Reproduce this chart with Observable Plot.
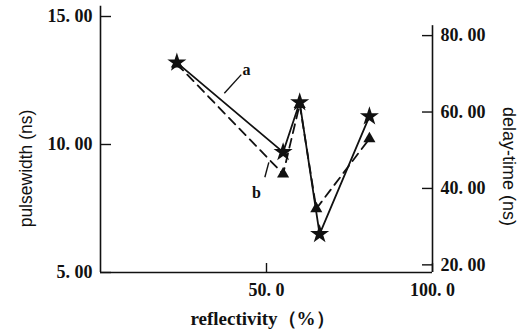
<!DOCTYPE html>
<html><head><meta charset="utf-8">
<script src="https://cdn.jsdelivr.net/npm/d3@7"></script>
<script src="https://cdn.jsdelivr.net/npm/@observablehq/plot@0.6"></script>
<style>body{margin:0;background:#fff;}</style>
</head><body><div id="chart"></div>
<script>
// curve a: pulsewidth (left axis), solid
const reflectA = [23, 55, 60, 66, 81];
const pulsewidthA = [13.2, 9.7, 11.65, 6.5, 11.1];
// curve b: delay-time (right axis), dashed
const reflectB = [23, 55, 60, 65, 81];
const delayB = [72.6, 43.8, 62, 34.7, 53];

const xTicks = [50, 100];
const xTickLabels = ["50. 0", "100. 0"];
const leftTicks = [5, 10, 15];
const leftTickLabels = ["5. 00", "10. 00", "15. 00"];
const rightTicks = [20, 40, 60, 80];
const rightTickLabels = ["20. 00", "40. 00", "60. 00", "80. 00"];

const xDomain = [0, 100];
const pulseDomain = [5, 15];
const delayDomain = [18, 85];
const leftAxisTop = 15.4;
const rightAxisTop = 82.6;

const xTitle = "reflectivity（%）";
const leftTitle = "pulsewidth (ns)";
const rightTitle = "delay-time (ns)";

// annotation labels (data units)
const annLabels = ["a", "b"];
const annX = [44, 47];
const annY = [12.9, 8.1];
const leaderX1 = [37.3, 49.5], leaderY1 = [12.0, 8.72];
const leaderX2 = [42.4, 50.7], leaderY2 = [12.73, 9.3];

const toPulse = v => pulseDomain[0] + (v - delayDomain[0]) / (delayDomain[1] - delayDomain[0]) * (pulseDomain[1] - pulseDomain[0]);

const A = reflectA.map((x, i) => ({x, y: pulsewidthA[i]}));
const B = reflectB.map((x, i) => ({x, y: toPulse(delayB[i])}));
const ann = annLabels.map((t, i) => ({t, x: annX[i], y: annY[i]}));
const leaders = annLabels.map((t, i) => ({x1: leaderX1[i], y1: leaderY1[i], x2: leaderX2[i], y2: leaderY2[i]}));

const serif = "'Liberation Serif', 'DejaVu Serif', serif";
const sans = "'Liberation Sans', 'DejaVu Sans', sans-serif";

const chart = Plot.plot({
  width: 528, height: 336,
  marginLeft: 100, marginRight: 96, marginTop: 16, marginBottom: 64,
  style: {fontFamily: serif, background: "#fff", color: "#111"},
  x: {domain: xDomain},
  y: {domain: pulseDomain},
  marks: [
    Plot.ruleX([xDomain[0]], {y1: pulseDomain[0], y2: leftAxisTop, strokeWidth: 1.6}),
    Plot.ruleX([xDomain[1]], {y1: pulseDomain[0], y2: toPulse(rightAxisTop), strokeWidth: 1.6}),
    Plot.ruleY([pulseDomain[0]], {x1: xDomain[0], x2: xDomain[1], strokeWidth: 1.6}),
    Plot.axisY(leftTicks, {anchor: "left", tickSize: -11, tickPadding: 19, strokeWidth: 1.4,
      tickFormat: (d, i) => leftTickLabels[i], fontSize: 18, fontWeight: "bold", label: null}),
    Plot.axisY(rightTicks.map(toPulse), {anchor: "right", tickSize: -11, tickPadding: 19, strokeWidth: 1.4,
      tickFormat: (d, i) => rightTickLabels[i], fontSize: 18, fontWeight: "bold", label: null}),
    Plot.axisX(xTicks, {anchor: "bottom", tickSize: -9, tickPadding: 20, strokeWidth: 1.4,
      tickFormat: (d, i) => xTickLabels[i], fontSize: 18, fontWeight: "bold", label: null}),
    Plot.line(A, {x: "x", y: "y", stroke: "#111", strokeWidth: 1.8}),
    Plot.line(B, {x: "x", y: "y", stroke: "#111", strokeWidth: 1.8, strokeDasharray: "9,6"}),
    Plot.dot(A, {x: "x", y: "y", symbol: "star", fill: "#111", r: 6}),
    Plot.dot(B, {x: "x", y: "y", symbol: "triangle", fill: "#111", r: 4.5}),
    Plot.link(leaders, {x1: "x1", y1: "y1", x2: "x2", y2: "y2", stroke: "#111", strokeWidth: 1.4}),
    Plot.text(ann, {x: "x", y: "y", text: "t", fontSize: 16, fontWeight: "bold"}),
    Plot.text([xTitle], {frameAnchor: "bottom", dx: -4, dy: 52, fontSize: 19, fontWeight: "bold", textAnchor: "middle"}),
    Plot.text([leftTitle], {frameAnchor: "left", dx: -74, dy: 24, rotate: -90, fontSize: 17.5, fontFamily: sans, textAnchor: "middle"}),
    Plot.text([rightTitle], {frameAnchor: "right", dx: 76, dy: 22, rotate: 90, fontSize: 18, fontFamily: sans, textAnchor: "middle"})
  ]
});
document.getElementById("chart").appendChild(chart);
</script>
</body></html>
